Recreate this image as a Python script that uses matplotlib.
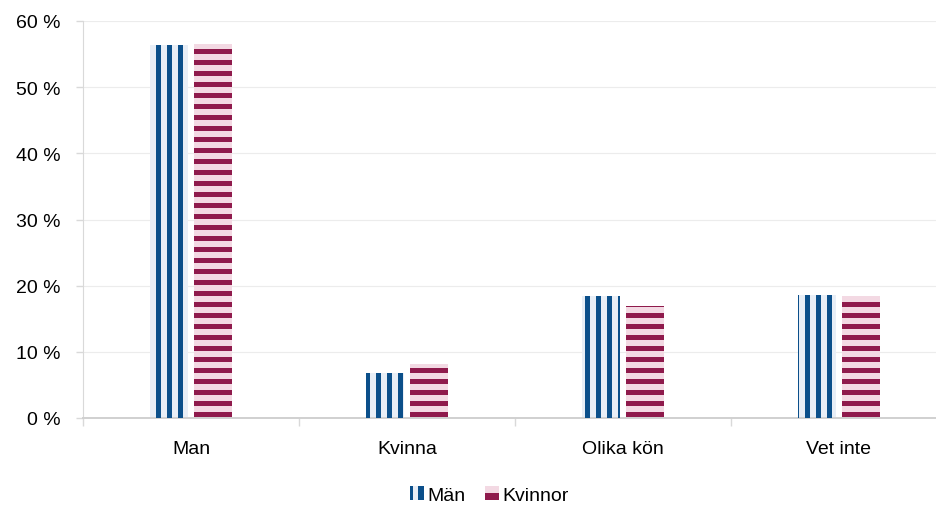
import numpy as np
import matplotlib
matplotlib.use('Agg')
import matplotlib.pyplot as plt
from matplotlib.patches import Rectangle, Patch
from matplotlib.transforms import IdentityTransform
from matplotlib.legend_handler import HandlerBase

categories = ['Man', 'Kvinna', 'Olika kön', 'Vet inte']
man = [56.3, 6.8, 18.4, 18.6]
kvinnor = [56.5, 8.2, 16.9, 18.4]
series_names = ['Män', 'Kvinnor']
yticks = [0, 10, 20, 30, 40, 50, 60]

blue_dark, blue_light = '#0b4f8a', '#e8eef6'
red_dark, red_light = '#8f1a4c', '#f3d9e3'

plt.rcParams['font.family'] = ['Liberation Sans', 'DejaVu Sans']
fs = 14

W, H, DPI = 937, 506, 100
fig = plt.figure(figsize=(W / DPI, H / DPI), dpi=DPI)
ax = fig.add_axes([83 / W, 1 - 419 / H, 854 / W, 397 / H])

x = np.arange(len(categories))
bw = 0.176
b1 = ax.bar(x - 0.1, man, bw, color=blue_light, edgecolor='none', zorder=2)
b2 = ax.bar(x + 0.1, kvinnor, bw, color=red_light, edgecolor='none', zorder=2)

ax.set_ylim(0, 60)
ax.set_xlim(-0.5, -0.5 + 854 / 216)
ax.set_yticks(yticks)
ax.set_yticklabels([f'{v} %' for v in yticks], fontsize=fs)
ax.set_xticks(x)
ax.set_xticklabels(categories, fontsize=fs)
ax.set_xticks(np.arange(-0.5, len(categories) - 0.5, 1), minor=True)
ax.tick_params(axis='x', which='major', length=0, pad=16)
ax.tick_params(axis='x', which='minor', length=6, color='#d9d9d9', width=1)
ax.tick_params(axis='y', length=5, color='#d9d9d9', width=1, pad=11)
ax.grid(axis='y', color='#ececec', lw=0.8, zorder=0)
for s in ['top', 'right']:
    ax.spines[s].set_visible(False)
ax.spines['left'].set_color('#d9d9d9')
ax.spines['left'].set_linewidth(0.8)
ax.spines['bottom'].set_color('#d0d0d0')
ax.spines['bottom'].set_linewidth(1.4)
ax.spines['bottom'].set_zorder(4)


def stripes(patch, color, vertical, period=11, width=5, phase=0):
    bb = patch.get_window_extent()
    if vertical:
        k0, k1 = int(np.floor(bb.x0 / period)) - 1, int(np.ceil(bb.x1 / period)) + 1
        for k in range(k0, k1):
            r = Rectangle((k * period + phase, bb.y0), width, bb.height,
                          transform=IdentityTransform(), fc=color, ec='none', zorder=3)
            fig.add_artist(r)
            r.set_clip_path(patch)
    else:
        k0, k1 = int(np.floor(bb.y0 / period)) - 1, int(np.ceil(bb.y1 / period)) + 1
        for k in range(k0, k1):
            r = Rectangle((bb.x0, k * period + phase), bb.width, width,
                          transform=IdentityTransform(), fc=color, ec='none', zorder=3)
            fig.add_artist(r)
            r.set_clip_path(patch)


for p in b1:
    stripes(p, blue_dark, True, phase=2)
for p in b2:
    stripes(p, red_dark, False, phase=0)


class StripeHandler(HandlerBase):
    def __init__(self, bg, fg, vertical):
        super().__init__()
        self.bg, self.fg, self.vertical = bg, fg, vertical

    def create_artists(self, legend, orig_handle, xdescent, ydescent,
                       width, height, fontsize, trans):
        x0, y0 = -xdescent, -ydescent
        arts = [Rectangle((x0, y0), width, height, fc=self.bg, ec='none', transform=trans)]
        if self.vertical:
            for a, b in [(0.0, 0.2), (0.6, 1.0)]:
                arts.append(Rectangle((x0 + a * width, y0), (b - a) * width, height,
                                      fc=self.fg, ec='none', transform=trans))
        else:
            arts.append(Rectangle((x0, y0), width, height * 0.5,
                                  fc=self.fg, ec='none', transform=trans))
        return arts


h1, h2 = Patch(), Patch()
fig.legend([h1, h2], series_names, loc='lower center', bbox_to_anchor=(0.5225, 0.002),
           ncol=2, frameon=False, fontsize=fs, handlelength=0.7, handleheight=0.7,
           handletextpad=0.2, columnspacing=1.0, borderpad=0.0, borderaxespad=0.0,
           handler_map={h1: StripeHandler(blue_light, blue_dark, True),
                        h2: StripeHandler(red_light, red_dark, False)})

fig.savefig('out.png', dpi=DPI)
